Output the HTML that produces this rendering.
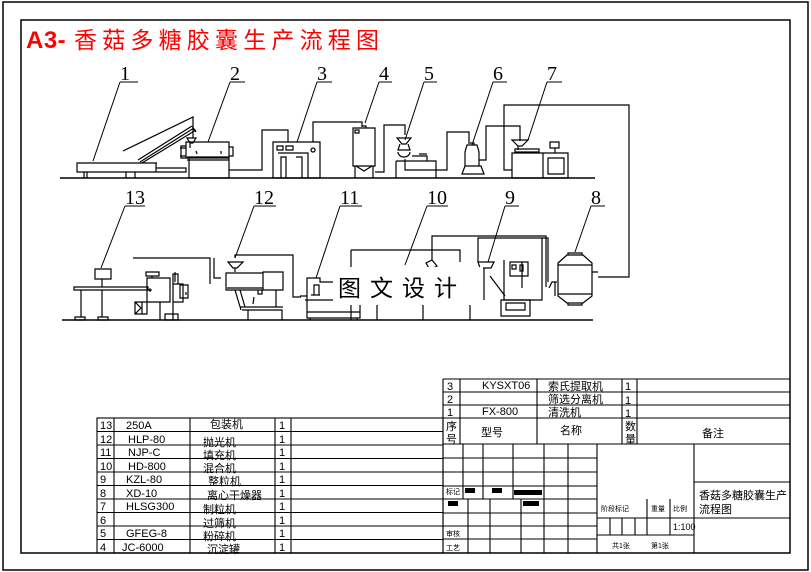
<!DOCTYPE html>
<html><head><meta charset="utf-8"><style>
html,body{margin:0;padding:0;background:#fff;}
svg{display:block;}
text{font-family:"Liberation Sans","Noto Sans CJK SC",sans-serif;fill:#000;}
.s{font-family:"Liberation Serif","Noto Serif CJK SC",serif;}
</style></head><body>
<svg width="811" height="572" viewBox="0 0 811 572" xmlns="http://www.w3.org/2000/svg" fill="none" stroke="#000" stroke-width="1.2">
<rect x="0" y="0" width="811" height="572" fill="#fff" stroke="none"/>
<rect x="3" y="2" width="805" height="568" stroke-width="1.5"/>
<rect x="21" y="20" width="769" height="533" stroke-width="1.5"/>
<text x="26" y="48" font-size="24" font-weight="bold" stroke="none" style="fill:#f00" font-family="Liberation Mono,monospace" letter-spacing="0.5">A3-</text>
<text x="74" y="48" font-size="23" stroke="none" style="fill:#f00" font-family="Noto Serif CJK SC,serif" letter-spacing="5.2">香菇多糖胶囊生产流程图</text>

<line x1="60" y1="178" x2="595" y2="178" stroke-width="1.5"/>
<line x1="62" y1="320" x2="593" y2="320" stroke-width="1.5"/>

<g class="s" font-size="20" stroke="none">
<text x="120" y="80" class="s">1</text><text x="230" y="80" class="s">2</text><text x="317" y="80" class="s">3</text>
<text x="379" y="80" class="s">4</text><text x="424" y="80" class="s">5</text><text x="493" y="80" class="s">6</text><text x="547" y="80" class="s">7</text>
<text x="125" y="204" class="s">13</text><text x="254" y="204" class="s">12</text><text x="340" y="204" class="s">11</text>
<text x="427" y="204" class="s">10</text><text x="505" y="204" class="s">9</text><text x="591" y="204" class="s">8</text>
</g>
<g stroke-width="1">
<path d="M120 82H138M120 82L93 161"/>
<path d="M230 82H245M230 82L208 142"/>
<path d="M317 82H332M317 82L297 142"/>
<path d="M379 82H392M379 82L365 123"/>
<path d="M424 82H437M424 82L405 140"/>
<path d="M493 82H507M493 82L472 145"/>
<path d="M547 82H562M547 82L528 140"/>
<path d="M125 206H145M125 206L101 268"/>
<path d="M254 206H276M254 206L235 258"/>
<path d="M340 206H362M340 206L316 278"/>
<path d="M427 206H448M427 206L405 265"/>
<path d="M505 206H519M505 206L488 262"/>
<path d="M591 206H605M591 206L575 252"/>
</g>

<path d="M77 163H156V172H77Z M84 172V178M87 172V178 M156 163H157 M126 172V178 M156 168H186V172H156Z M135 172V178"/>
<path d="M138 160L192 126 M140 162L194 128 M142 163L196 130 M192 126L196 132 M123 151L193 117V138"/>
<path d="M186 142H229V158H186Z M181 146H186V158H181Z M189 158H229V178H189Z M186 148H180 M186 156H180 M229 147H233V156H229 M187 157H229 M187 160H229 M187 138H196L193 143H190Z M190 143V148 M196 151L197 154 M221 151V154"/>
<path d="M229 170H262V130H288V142"/>
<path d="M273 142H320V178H273Z M277 146H283V150H277Z M286 146H293V150H286Z M278 153H308V178 M281 157H286V178H281Z M296 157H302V178 M313 148A2 2 0 1 0 313.1 148 M313 142V122H362V127"/>
<path d="M353 128H375V166H353Z M355 130H359V133H355Z M362 126H366V128 M356 166L364 171L372 166 M355 166V178M373 166V178 M375 172H384V125H405V135"/>
<path d="M397 138H411L406 144H402Z M400 144L398 150H410L408 144 M398 152A6 5 0 0 0 410 152 M396 161H436V178 M396 161V178 M412 156H427V161 M419 154H427 M405 159V170H447V132H469V144"/>
<path d="M467 145H477L479 152V166H465V152Z M470 143H474V145 M465 166H481L484 174H462Z M479 160H486V126H520V141"/>
<path d="M512 140H528L522 146H518Z M518 146V150 M515 149H539V152H515Z M512 153H543V178H512Z M543 153H568V178H543Z M548 158H564V174H548Z M555 153V148 M550 142H559V148H550Z M512 170H504V105H629V277H598"/>
<path d="M558 263L567 255H583L592 263V296L583 303H567L558 296Z M568 253H582V255H568Z M568 303H582V305H568Z M558 265L592 265 M558 294H592 M592 272H598 M557 282H552L549 288 M555 282V296"/>
<path d="M548 282V238H478V262 M546 287V236H432V260 M504 260V300H542V238"/>
<path d="M478 262H494L491 268H480Z M484 268V300 M501 300H530V316H501Z M506 303H525V310H506Z M522 288L522 262 M510 262H528V276H510Z M512 265H516V269H512Z M520 265H523V271H520Z M490 276L505 296"/>
<path d="M432 260L437 266L430 270L426 263Z M351 250V320 M351 250H460V262 M377 300V320 M423 300V320 M470 300V320"/>
<path d="M307 278H320V282H360V312H307Z M307 312V318H360V312 M310 318V320 M357 318V320 M314 285H319V295H314Z M311 295H320 M307 296H300 M305 300H348"/>
<path d="M228 262H243L237 268H233Z M235 268V272 M226 273H263V290H226Z M227 288H263 M263 272H283V290H263Z M235 290L241 310 M240 290L245 307 M240 307H283 M242 310H282V320 M248 310V320 M276 290V307 M258 290H262V294H258Z"/>
<path d="M235 258V255H293V297H301"/>
<path d="M254 297L253 304 M214 258V278H221"/>
<path d="M95 269H111V279H95Z M102 279V287 M74 287H148V290H74Z M81 290V317 M102 290V317 M75 317H85V320H75Z M98 317H108V320H98Z"/>
<path d="M133 258H210V284 M147 278H170V302H147Z M146 272H159V276H146Z M152 276V278 M150 289A1 1 0 1 0 150.1 289 M173 274H178V284H173Z M175 272V282 M180 285H188V298H180Z M186 292V295 M173 284H183V302H173Z M135 302H147V314H135Z M135 302L141 308L135 314 M142 302V314 M160 302V320 M165 314H178V320H165Z M173 302V320 M155 302L160 302"/>

<rect x="333" y="267" width="150" height="38" fill="#fff" stroke="none"/>
<text x="338" y="296" font-size="23" stroke="none" font-family="Noto Serif CJK SC,serif" letter-spacing="9">图文设计</text>

<g stroke-width="1.1">
<rect x="97" y="418" width="346" height="135"/>
<path d="M97 431.5H443M97 445H443M97 458.5H443M97 472H443M97 485.5H443M97 499H443M97 512.5H443M97 526H443M97 539.5H443"/>
<path d="M114 418V553M190 418V553M275 418V553M291 418V553"/>
<path d="M443 379H790 M443 392H790 M443 405H790 M443 418H790 M443 444H790 M443 379V553 M460 379V444 M537 379V444 M622 379V444 M637 379V444"/>
<path d="M443 458H597M443 472H597M443 486H597M443 499H597M443 513H597M443 526H597M443 539H597"/>
<path d="M463 444V499M483 444V499M513 444V499M544 444V553M568 444V553M597 444V553M694 444V553"/>
<path d="M468 499V553M490 499V553M521 499V553"/>
<path d="M597 518H694M597 535H694M610 518V535M622 518V535M635 518V535M647 499V535M670 499V535"/>
<path d="M694 482H790M694 518H790"/>
</g>
<g fill="#000" stroke="none">
<rect x="465" y="488" width="10" height="5"/><rect x="492" y="488" width="10" height="5"/><rect x="514" y="490" width="28" height="5"/>
<rect x="448" y="501" width="10" height="5"/><rect x="523" y="501" width="16" height="5"/>
</g>
<g font-size="11" stroke="none">
<text x="100" y="429">13</text><text x="126" y="429">250A</text><text x="210" y="428">包装机</text><text x="279" y="429">1</text>
<text x="100" y="443">12</text><text x="128" y="443">HLP-80</text><text x="203" y="446">抛光机</text><text x="279" y="443">1</text>
<text x="100" y="456">11</text><text x="128" y="456">NJP-C</text><text x="203" y="459">填充机</text><text x="279" y="456">1</text>
<text x="100" y="470">10</text><text x="128" y="470">HD-800</text><text x="203" y="472">混合机</text><text x="279" y="470">1</text>
<text x="100" y="483">9</text><text x="126" y="483">KZL-80</text><text x="208" y="485">整粒机</text><text x="279" y="483">1</text>
<text x="100" y="497">8</text><text x="126" y="497">XD-10</text><text x="207" y="499">离心干燥器</text><text x="279" y="497">1</text>
<text x="100" y="510">7</text><text x="126" y="510">HLSG300</text><text x="203" y="513">制粒机</text><text x="279" y="510">1</text>
<text x="100" y="524">6</text><text x="203" y="527">过筛机</text><text x="279" y="524">1</text>
<text x="100" y="537">5</text><text x="126" y="537">GFEG-8</text><text x="203" y="540">粉碎机</text><text x="279" y="537">1</text>
<text x="100" y="551">4</text><text x="122" y="551">JC-6000</text><text x="207" y="553">沉淀罐</text><text x="279" y="551">1</text>
<text x="447" y="390">3</text><text x="482" y="389">KYSXT06</text><text x="548" y="390">索氏提取机</text><text x="625" y="390">1</text>
<text x="447" y="403">2</text><text x="548" y="403">筛选分离机</text><text x="625" y="404">1</text>
<text x="447" y="416">1</text><text x="482" y="415">FX-800</text><text x="548" y="416">清洗机</text><text x="625" y="417">1</text>
<text x="446" y="430">序</text><text x="446" y="443">号</text><text x="481" y="436">型号</text><text x="560" y="434">名称</text>
<text x="625" y="430">数</text><text x="625" y="443">量</text><text x="702" y="437">备注</text>
<text x="699" y="499">香菇多糖胶囊生产</text><text x="699" y="513">流程图</text>
<text x="673" y="530" font-size="9">1:100</text>
</g>
<g font-size="7" stroke="none">
<text x="446" y="494">标记</text><text x="446" y="536">审核</text><text x="446" y="550">工艺</text>
<text x="601" y="511">阶段标记</text><text x="651" y="511">重量</text><text x="673" y="511">比例</text>
<text x="612" y="548">共1张</text><text x="651" y="548">第1张</text>
</g>
</svg>
</body></html>
